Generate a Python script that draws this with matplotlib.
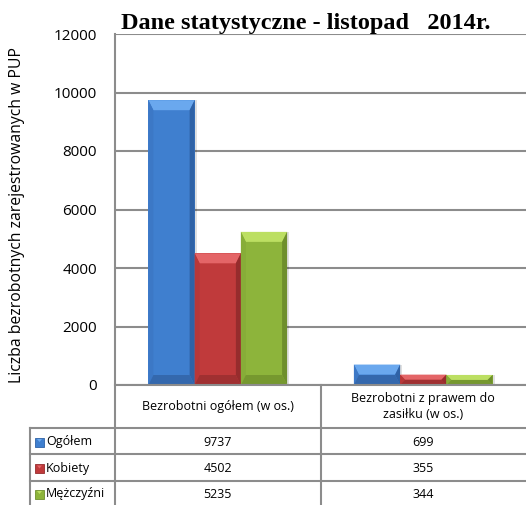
import matplotlib.pyplot as plt
from matplotlib.patches import Polygon, Rectangle
import numpy as np

# dane z wykresu
categories = ["Bezrobotni ogółem (w os.)", "Bezrobotni z prawem do\nzasiłku (w os.)"]
series = ["Ogółem", "Kobiety", "Mężczyźni"]
ogolem = [9737, 699]
kobiety = [4502, 355]
mezczyzni = [5235, 344]
values = [ogolem, kobiety, mezczyzni]
yticks = [0, 2000, 4000, 6000, 8000, 10000, 12000]

# kolory: baza, góra (jaśniej), lewa, prawa, dół
palette = [
    dict(base="#3f7fcf", top="#6aa8ee", left="#3c78c6", right="#2f62a6", bottom="#3468ad"),
    dict(base="#c03a3b", top="#e46567", left="#b83738", right="#962c2d", bottom="#a03031"),
    dict(base="#8db43b", top="#bcdf62", left="#87ad38", right="#6e8f2c", bottom="#76982f"),
]
grid_col = "#8c8c8c"

W, H = 526, 505
fig = plt.figure(figsize=(W / 100, H / 100), dpi=100)

# obszar wykresu w pikselach
px_l, px_r, px_t, px_b = 115, 526, 34, 385
ax = fig.add_axes([px_l / W, 1 - px_b / H, (px_r - px_l) / W, (px_b - px_t) / H])
ax.set_xlim(-0.5, len(categories) - 0.5)
ax.set_ylim(0, 12000)
ax.set_yticks(yticks)
ax.set_yticklabels([str(v) for v in yticks], fontsize=11, family="Open Sans")
ax.tick_params(axis="y", length=0, pad=13)
ax.set_xticks([])
for s in ax.spines.values():
    s.set_visible(False)
ax.yaxis.grid(True, color=grid_col, linewidth=1.5)
ax.set_axisbelow(True)
ax.set_ylabel("Liczba bezrobotnych zarejestrowanych w PUP", fontsize=11.3,
              family="Open Sans")
ax.yaxis.set_label_coords(-0.219, 0.484)

# przeliczenie pikseli na jednostki danych
ux = (len(categories)) / (px_r - px_l)
uy = 12000 / (px_b - px_t)
bw = 0.225
bev_x = 5
bev_y = 10


def bevel_bar(x0, h, col):
    x1 = x0 + bw
    bx = bev_x * ux
    by = min(bev_y * uy, h / 2)
    # cień
    ax.add_patch(Rectangle((x0 + 2 * ux, 0), bw, h, color="#000000", alpha=0.12,
                           linewidth=0, zorder=2))
    ax.add_patch(Rectangle((x0, 0), bw, h, facecolor=col["base"], linewidth=0, zorder=3))
    ax.add_patch(Polygon([(x0, h), (x1, h), (x1 - bx, h - by), (x0 + bx, h - by)],
                         closed=True, facecolor=col["top"], linewidth=0, zorder=4))
    ax.add_patch(Polygon([(x0, 0), (x0 + bx, by), (x0 + bx, h - by), (x0, h)],
                         closed=True, facecolor=col["left"], linewidth=0, zorder=4))
    ax.add_patch(Polygon([(x1, 0), (x1 - bx, by), (x1 - bx, h - by), (x1, h)],
                         closed=True, facecolor=col["right"], linewidth=0, zorder=4))
    ax.add_patch(Polygon([(x0, 0), (x1, 0), (x1 - bx, by), (x0 + bx, by)],
                         closed=True, facecolor=col["bottom"], linewidth=0, zorder=4))


for si, vals in enumerate(values):
    for ci, v in enumerate(vals):
        x0 = ci + (si - 1) * bw - bw / 2
        bevel_bar(x0, v, palette[si])

ax.set_title("Dane statystyczne - listopad   2014r.", fontsize=17.5, fontweight="bold",
             family="Liberation Serif", pad=2, x=0.465)

# tabela danych pod wykresem (współrzędne pikselowe)
tab = fig.add_axes([0, 0, 1, 1])
tab.set_xlim(0, W)
tab.set_ylim(H, 0)
tab.axis("off")
tab.patch.set_alpha(0)

row_y = [428, 454, 481, 508]
col_div = px_l + (px_r - px_l) / 2
lw = 1.5
# linie pionowe
tab.plot([px_l, px_l], [px_t, H], color=grid_col, lw=lw)
tab.plot([col_div, col_div], [px_b, H], color=grid_col, lw=lw)
tab.plot([30, 30], [row_y[0], H], color=grid_col, lw=lw)
# linie poziome
tab.plot([px_l, px_r], [px_b, px_b], color=grid_col, lw=lw)
for y in row_y[:3]:
    tab.plot([30, px_r], [y, y], color=grid_col, lw=lw)

cat_w = (px_r - px_l) / len(categories)
for ci, cat in enumerate(categories):
    cx = px_l + (ci + 0.5) * cat_w
    tab.text(cx, (px_b + row_y[0]) / 2, cat, ha="center", va="center", fontsize=9,
             family="Open Sans", linespacing=1.3)
    for si, vals in enumerate(values):
        cy = (row_y[si] + min(row_y[si + 1], H)) / 2 + 1
        tab.text(cx, cy, str(vals[ci]), ha="center", va="center", fontsize=9,
                 family="Open Sans")

for si, name in enumerate(series):
    cy = (row_y[si] + min(row_y[si + 1], H)) / 2 + 1
    tab.add_patch(Rectangle((35, cy - 4.5), 9, 9, facecolor=palette[si]["base"],
                            edgecolor=palette[si]["right"], lw=0.6))
    tab.add_patch(Polygon([(37, cy - 3), (42, cy - 3), (39.5, cy)], closed=True,
                          facecolor=palette[si]["top"], lw=0))
    tab.text(46, cy, name, ha="left", va="center", fontsize=9, family="Open Sans")

fig.savefig("out.png", dpi=100)
